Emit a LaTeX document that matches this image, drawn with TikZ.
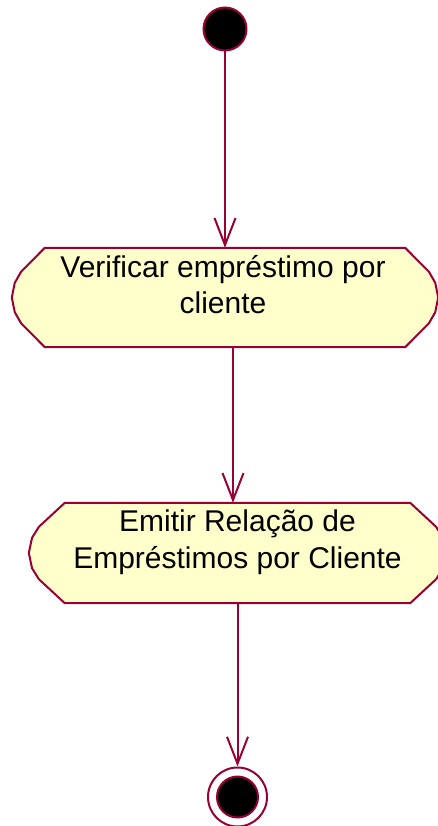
\documentclass[tikz,border=0pt]{standalone}
\usepackage{fontspec}
\setmainfont{Liberation Sans}
\usepackage{tikz}
\usetikzlibrary{arrows.meta,calc}

\definecolor{rosered}{HTML}{990033}
\definecolor{roseyellow}{HTML}{FFFFCC}

% Outline of an activity: node name, depth of the rounded ends
\newcommand{\actoutline}[2]{%
  \draw[actline] (#1.north west)
    -- ($(#1.north west)+(-0.72*#2,24)$) -- ($(#1.north west)+(-0.91*#2,35)$)
    -- ($(#1.west)+(-#2,0)$)
    -- ($(#1.south west)+(-0.91*#2,-35)$) -- ($(#1.south west)+(-0.72*#2,-24)$)
    -- (#1.south west) -- (#1.south east)
    -- ($(#1.south east)+(0.72*#2,-24)$) -- ($(#1.south east)+(0.91*#2,-35)$)
    -- ($(#1.east)+(#2,0)$)
    -- ($(#1.north east)+(0.91*#2,35)$) -- ($(#1.north east)+(0.72*#2,24)$)
    -- (#1.north east) -- cycle;}

\begin{document}
\begin{tikzpicture}[x=1pt,y=-1pt,
    actline/.style={draw=rosered,line width=2pt,fill=roseyellow,line join=miter},
    actbox/.style={rectangle,inner sep=0pt,minimum height=99pt},
    acttext/.style={align=center,anchor=north,inner sep=0pt,
      font=\fontsize{30}{36.5}\selectfont},
    dot/.style={circle,draw=rosered,line width=2pt,fill=black,inner sep=0pt},
    flow/.style={draw=rosered,line width=2pt,-{Straight Barb[length=27pt,width=21pt]}}]
  \useasboundingbox (0,0) rectangle (438,826);
  \clip (0,0) rectangle (438,826);
  % Start
  \node[dot,minimum size=43pt] (start) at (225,29) {};
  % Activities
  \node[actbox,minimum width=360pt] (verif) at (225,297.5) {};
  \actoutline{verif}{33}
  \node[acttext] (verif-text) at ([xshift=-2pt,yshift=-7pt]verif.north) {Verificar empréstimo por\\cliente};
  \node[actbox,minimum width=345pt,minimum height=100pt] (emit) at (237.5,553) {};
  \actoutline{emit}{36}
  \node[acttext] (emit-text) at ([yshift=-7pt]emit.north) {Emitir Relação de\\Empréstimos por Cliente};
  % End
  \node[circle,draw=rosered,line width=2pt,fill=white,minimum size=59pt,inner sep=0pt] (end) at (237.5,797) {};
  \node[dot,minimum size=41pt] (end-dot) at (end) {};
  % Transitions
  \draw[flow] (start) -- (verif.north);
  \draw[flow] ([xshift=8pt]verif.south) -- ([xshift=-4.5pt]emit.north);
  \draw[flow] (emit.south) -- (end);
\end{tikzpicture}
\end{document}
